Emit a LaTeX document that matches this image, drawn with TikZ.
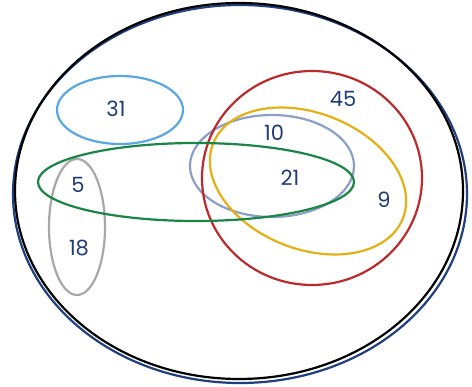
\documentclass[tikz,border=0pt]{standalone}
\usepackage{fontspec}
\setmainfont{Poppins}
\definecolor{navy}{HTML}{1F3F7F}
\definecolor{txtblue}{HTML}{1F3C78}
\definecolor{lblue}{HTML}{5AA8E2}
\definecolor{vgreen}{HTML}{1A8544}
\definecolor{vgray}{HTML}{A8A8A8}
\definecolor{bgray}{HTML}{8C9FC6}
\definecolor{vred}{HTML}{BC2B2B}
\definecolor{vyellow}{HTML}{E5B013}
\tikzset{
  setline/.style={line width=2.2pt},
  num/.style={text=txtblue, font=\fontsize{21}{21}\selectfont, inner sep=0pt}
}
\begin{document}
\begin{tikzpicture}[x=1pt,y=-1pt]
\useasboundingbox[fill=white] (0,0) rectangle (472,387);
% universe
\draw[setline, navy] (240,194) ellipse [x radius=227pt, y radius=189pt];
\draw[setline, black] (239,191) ellipse [x radius=224pt, y radius=188pt];
% sets
\draw[setline, lblue] (120,110) ellipse [x radius=63pt, y radius=34pt];
\draw[setline, vgray] (77,227) ellipse [x radius=28pt, y radius=68pt];
\draw[setline, bgray] (272,166) ellipse [x radius=82pt, y radius=51pt];
\draw[setline, vyellow, shift={(308,181)}, rotate=-21.5] (0,0) ellipse [x radius=102pt, y radius=68pt];
\draw[setline, vred] (312,178) ellipse [x radius=110pt, y radius=107pt];
\draw[setline, vgreen] (196,182) ellipse [x radius=158pt, y radius=39pt];
% labels
\node[num] (n31) at (116,109) {31};
\node[num] (n5) at (78,185) {5};
\node[num] (n18) at (79,248) {18};
\node[num] (n10) at (274,133) {10};
\node[num] (n45) at (343,99) {45};
\node[num] (n21) at (290,178) {21};
\node[num] (n9) at (384,200) {9};
\end{tikzpicture}
\end{document}
